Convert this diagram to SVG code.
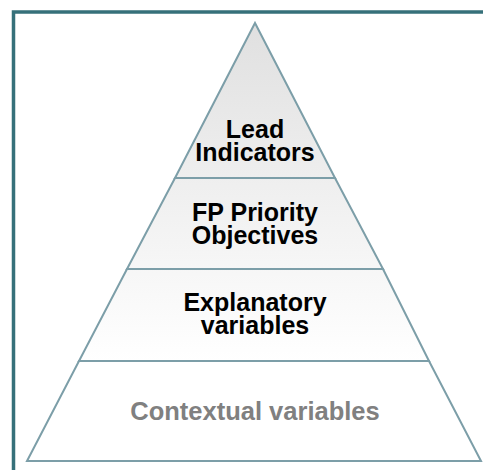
<svg xmlns="http://www.w3.org/2000/svg" width="483" height="470" viewBox="0 0 483 470">
<defs>
<linearGradient id="g" gradientUnits="userSpaceOnUse" x1="0" y1="23" x2="0" y2="361">
<stop offset="0" stop-color="#e0e0e0"/>
<stop offset="1" stop-color="#ffffff"/>
</linearGradient>
<style>
.band{fill:url(#g);stroke:#7c9ea8;stroke-width:2;stroke-linejoin:miter}
.t{font-family:"Liberation Sans",Arial,sans-serif;font-weight:bold;font-size:25px;text-anchor:middle;fill:#000}
.g{fill:#808080;font-size:25.5px}
</style>
</defs>
<rect x="13.5" y="12" width="490" height="480" fill="#ffffff" stroke="#36707a" stroke-width="3.5"/>
<g id="contextual">
<polygon class="band" points="79,361 429,361 481,461 27,461"/>
<text class="t g" x="255" y="420">Contextual variables</text>
</g>
<g id="explanatory">
<polygon class="band" points="127,269 383,269 429,361 79,361"/>
<text class="t" x="255" y="311">Explanatory<tspan x="255" dy="22.5">variables</tspan></text>
</g>
<g id="fp-priority">
<polygon class="band" points="175,178 335,178 383,269 127,269"/>
<text class="t" x="255" y="221">FP Priority<tspan x="255" dy="22.5">Objectives</tspan></text>
</g>
<g id="lead">
<polygon class="band" points="255,23 335,178 175,178"/>
<text class="t" x="255" y="138">Lead<tspan x="255" dy="22.5">Indicators</tspan></text>
</g>
<g id="connectors"/>
</svg>
